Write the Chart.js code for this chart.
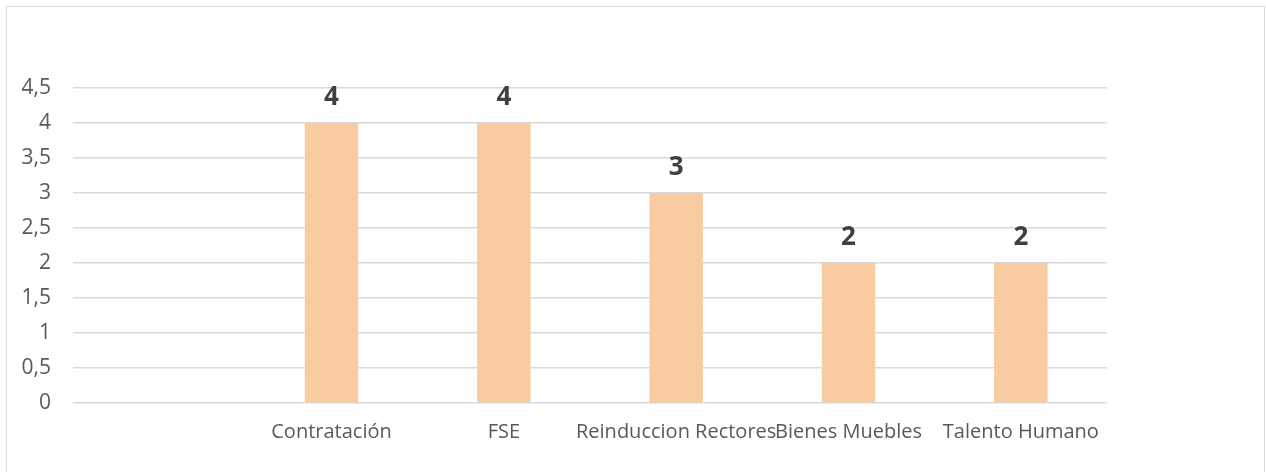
<!DOCTYPE html>
<html>
<head>
<meta charset="utf-8">
<script src="https://cdn.jsdelivr.net/npm/chart.js@4/dist/chart.umd.min.js"></script>
<style>
  body { margin: 0; background: #fff; }
  #box {
    position: absolute; left: 6px; top: 6px;
    width: 1257px; height: 470px;
    border: 1px solid #d9d9d9; border-bottom: none;
  }
</style>
</head>
<body>
<div id="box"><canvas id="myChart"></canvas></div>
<script>
// data
var labels = ['', 'Contratación', 'FSE', 'Reinduccion Rectores', 'Bienes Muebles', 'Talento Humano'];
var values = [null, 4, 4, 3, 2, 2];
var yTicks = [0, 0.5, 1, 1.5, 2, 2.5, 3, 3.5, 4, 4.5];

// draws the bold numbers above each bar
var valueLabels = {
    id: 'valueLabels',
    afterDatasetsDraw: function(chart) {
        var ctx = chart.ctx;
        var meta = chart.getDatasetMeta(0);
        ctx.save();
        ctx.font = 'bold 26px "Open Sans"';
        ctx.fillStyle = '#404040';
        ctx.textAlign = 'center';
        ctx.textBaseline = 'alphabetic';
        meta.data.forEach(function(bar, i) {
            if (values[i] == null) return;
            ctx.fillText(String(values[i]), bar.x, bar.y - 18);
        });
        ctx.restore();
    }
};

var ctx = document.getElementById('myChart').getContext('2d');
var myChart = new Chart(ctx, {
    type: 'bar',
    data: {
        labels: labels,
        datasets: [{
            data: values,
            backgroundColor: '#F8CBA0',
            barPercentage: 0.31,
            categoryPercentage: 1
        }]
    },
    plugins: [valueLabels],
    options: {
        responsive: true,
        maintainAspectRatio: false,
        animation: false,
        layout: { padding: { top: 81, right: 157, bottom: 0, left: 0 } },
        plugins: {
            legend: { display: false },
            tooltip: { enabled: false }
        },
        scales: {
            x: {
                grid: { display: false },
                border: { display: false },
                ticks: {
                    color: '#595959',
                    font: { family: 'Open Sans', size: 20 },
                    padding: 9,
                    maxRotation: 0,
                    autoSkip: false
                },
                afterFit: function(scale) { scale.height = 74; }
            },
            y: {
                min: 0,
                max: 4.5,
                afterBuildTicks: function(scale) {
                    scale.ticks = yTicks.map(function(v) { return { value: v }; });
                },
                grid: { color: '#d9d9d9', lineWidth: 1.5, drawTicks: false },
                border: { display: false },
                ticks: {
                    color: '#595959',
                    font: { family: 'Open Sans', size: 21 },
                    padding: 22,
                    callback: function(v) { return String(v).replace('.', ','); }
                },
                afterFit: function(scale) { scale.width = 66; }
            }
        }
    }
});
</script>
</body>
</html>
